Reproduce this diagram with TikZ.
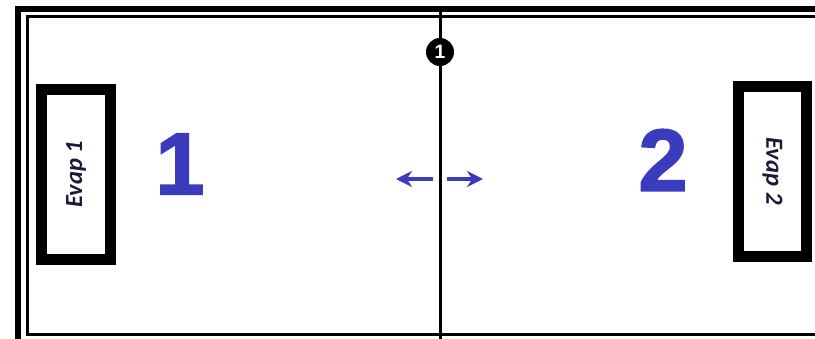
\documentclass[tikz,border=0pt]{standalone}
\usepackage{fontspec}
\setmainfont{Liberation Sans}
\newfontfamily\evapfont{Carlito}
\newfontfamily\zonefont[FakeBold=2]{Liberation Sans Bold}
\usetikzlibrary{arrows.meta,positioning}

\definecolor{zoneblue}{RGB}{59,59,189}
\definecolor{evapink}{RGB}{25,25,60}

\tikzset{
  evapbox/.style={draw, line width=0.22cm, minimum width=1.37cm, minimum height=3.4cm, inner sep=0pt},
  evaptext/.style={font=\evapfont\fontsize{14}{14}\selectfont\bfseries\itshape, text=evapink},
  zonenum/.style={font=\zonefont\fontsize{50}{50}\selectfont, text=zoneblue},
  flowarrow/.style={-{Stealth[length=0.32cm,width=0.32cm]}, zoneblue, line width=0.07cm}
}

\begin{document}
\begin{tikzpicture}[>=Latex]
\useasboundingbox (0,0) rectangle (16.3,-6.78);

% walls (double line, right side cut off)
\draw[line width=0.12cm] (0.36,-7) -- (0.36,-0.18) -- (16.6,-0.18);
\draw[line width=0.06cm] (16.6,-6.68) -- (0.55,-6.68) -- (0.55,-0.32) -- (16.6,-0.32);

% divider between the two zones
\coordinate (divtop) at (8.8,-0.18);
\coordinate (divbot) at (8.8,-7);
\draw[line width=0.06cm] (divtop) -- (divbot);

% marker 1 on the divider
\node[circle, fill=black, minimum size=0.56cm, inner sep=0pt, text=white,
      font=\fontsize{11}{11}\selectfont\bfseries] (mark1) at (8.8,-1.04) {1};

% evaporators
\node[evapbox] (evap1) at (1.52,-3.48) {};
\node[evaptext, rotate=90] (evap1txt) at (evap1) {Evap 1};
\node[evapbox] (evap2) at (15.45,-3.42) {};
\node[evaptext, rotate=-90] (evap2txt) at (evap2) {Evap 2};

% zone numbers
\node[zonenum] (zone1) at (3.6,-3.28) {1};
\node[zonenum] (zone2) at (13.26,-3.2) {2};

% air exchange through the divider
\coordinate (lstart) at (8.66,-3.58);
\coordinate (lend) at (7.92,-3.58);
\coordinate (rstart) at (8.94,-3.58);
\coordinate (rend) at (9.66,-3.58);
\draw[flowarrow] (lstart) -- (lend);
\draw[flowarrow] (rstart) -- (rend);
\end{tikzpicture}
\end{document}
